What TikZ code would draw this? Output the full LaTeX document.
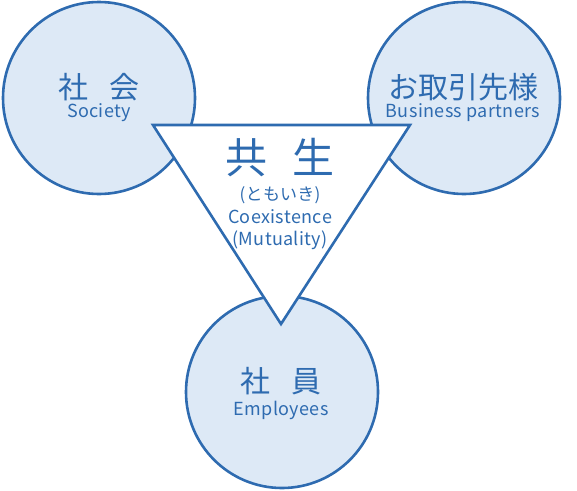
\documentclass[tikz,border=0pt]{standalone}
\usepackage{fontspec}
\setmainfont{Noto Sans CJK JP}
\newfontfamily\latinwide[LetterSpace=2]{Noto Sans CJK JP}
\definecolor{ringblue}{HTML}{2E6BB0}
\definecolor{ringfill}{HTML}{DDE9F6}

\begin{document}
\begin{tikzpicture}[x=1pt,y=-1pt,every node/.style={text=ringblue,inner sep=0pt}]
\tikzset{ring/.style={circle,draw=ringblue,fill=ringfill,line width=2.6pt,minimum size=192pt},
  bigjp/.style={font=\fontsize{30}{36}\selectfont},
  smallen/.style={font=\latinwide\fontsize{18}{21}\selectfont}}
\useasboundingbox (0,0) rectangle (577,490);
% three circles
\node[ring] (society) at (99,98) {};
\node[ring] (partners) at (464,98) {};
\node[ring] (staff) at (282,392) {};
% triangle
\coordinate (tl) at (153,125);
\coordinate (tr) at (410,125);
\coordinate (apex) at (281,324);
\draw[ringblue,fill=white,line width=2.6pt,line join=miter] (tl) -- (tr) -- (apex) -- cycle;
% labels
\node[bigjp] (societyjp) at (99,87) {社\hspace{0.7em}会};
\node[smallen] (societyen) at (99,113) {Society};
\node[bigjp] (partnersjp) at (463,87) {お取引先様};
\node[smallen] (partnersen) at (463,113) {Business partners};
\node[bigjp] (staffjp) at (281,381) {社\hspace{0.7em}員};
\node[smallen] (staffen) at (281,410) {Employees};
\node[font=\fontsize{42}{48}\selectfont] (kyosei) at (280,158) {共\hspace{0.6em}生};
\node[font=\latinwide\fontsize{17}{20}\selectfont] (kana) at (280,195) {(ともいき)};
\node[smallen] (coex) at (280,217) {Coexistence};
\node[smallen] (mutual) at (280,240) {(Mutuality)};
\end{tikzpicture}
\end{document}
